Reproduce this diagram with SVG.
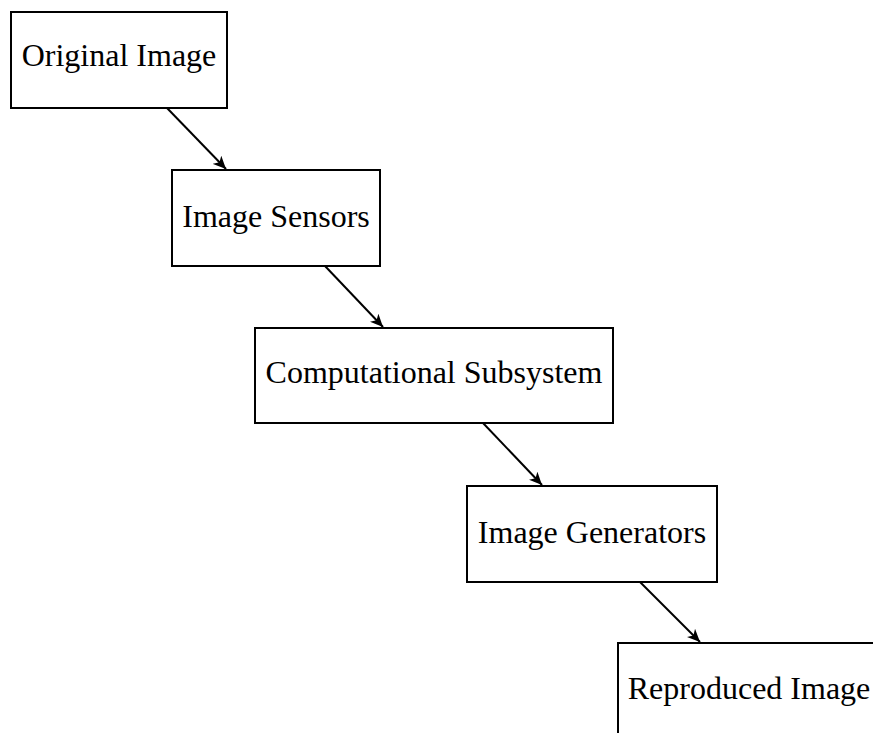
<svg xmlns="http://www.w3.org/2000/svg" width="873" height="733" viewBox="0 0 873 733">
<style>
.box{fill:#fff;stroke:#000;stroke-width:2}
.lbl{font-family:"Liberation Serif","Times New Roman",serif;font-size:32px;fill:#000;text-anchor:middle}
.edge{stroke:#000;stroke-width:2;fill:none}
</style>
<defs>
<marker id="arr" markerUnits="userSpaceOnUse" markerWidth="14" markerHeight="12" refX="11" refY="5" orient="auto" viewBox="0 0 12 10">
<path d="M0,0 L11,5 L0,10 L3,5 Z" fill="#000"/>
</marker>
</defs>
<rect width="873" height="733" fill="#fff"/>
<g id="connectors">
<line class="edge" x1="167" y1="108" x2="226" y2="169" marker-end="url(#arr)"/>
<line class="edge" x1="325" y1="266" x2="383" y2="327" marker-end="url(#arr)"/>
<line class="edge" x1="483" y1="423" x2="542" y2="485" marker-end="url(#arr)"/>
<line class="edge" x1="640" y1="582" x2="700" y2="642" marker-end="url(#arr)"/>
</g>
<g id="original-image">
<rect class="box" x="11" y="12" width="216" height="96"/>
<text class="lbl" x="119" y="66">Original Image</text>
</g>
<g id="image-sensors">
<rect class="box" x="172" y="170" width="208" height="96"/>
<text class="lbl" x="276" y="227">Image Sensors</text>
</g>
<g id="computational-subsystem">
<rect class="box" x="255" y="328" width="358" height="95"/>
<text class="lbl" x="434" y="383">Computational Subsystem</text>
</g>
<g id="image-generators">
<rect class="box" x="467" y="486" width="250" height="96"/>
<text class="lbl" x="592" y="543">Image Generators</text>
</g>
<g id="reproduced-image">
<rect class="box" x="618" y="643" width="262" height="96"/>
<text class="lbl" x="749" y="699">Reproduced Image</text>
</g>
</svg>
